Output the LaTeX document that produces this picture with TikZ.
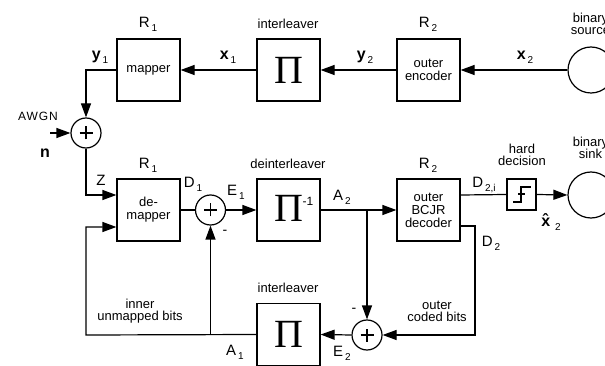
\documentclass[tikz,border=0pt]{standalone}
\usepackage{fontspec}
\setmainfont{Liberation Sans}
\newfontfamily\pifont{Liberation Serif}
\usetikzlibrary{arrows.meta}

% font size in picture units (1pt = one unit)
\newcommand{\fsz}[1]{\fontsize{#1}{#1}\selectfont}
% symbol with a lowered subscript
\newcommand{\sym}[2]{\fsz{15}#1\hspace{2pt}\raisebox{-4pt}{\fsz{10}#2}}
\newcommand{\bsym}[2]{\fsz{16}\textbf{#1}\hspace{2pt}\raisebox{-4pt}{\fsz{10}#2}}

\tikzset{
  blk/.style={draw, line width=1.2pt, rectangle, minimum width=63pt, minimum height=62pt,
              inner sep=0pt, align=center, font=\fsz{13}},
  adder/.style={draw, line width=1.2pt, circle, minimum size=30pt, inner sep=0pt,
              path picture={\draw[line width=1.2pt]
                ([xshift=-6.5pt]path picture bounding box.center) -- ([xshift=6.5pt]path picture bounding box.center)
                ([yshift=-6.5pt]path picture bounding box.center) -- ([yshift=6.5pt]path picture bounding box.center);}},
  term/.style={draw, line width=1.2pt, circle, minimum size=46pt, inner sep=0pt},
  wire/.style={line width=1.2pt},
  arr/.style={line width=1.2pt, -{Triangle[length=14pt,width=10pt]}},
  txt/.style={inner sep=0pt, align=center, font=\fsz{13}},
  lab/.style={inner sep=0pt},
}

\begin{document}
\begin{tikzpicture}[x=1pt, y=-1pt]
\useasboundingbox (0,0) rectangle (605,366);

% ---- transmitter chain ----
\node[blk] (map) at (148.5,70) {mapper};
\node[blk] (pi1) at (288.5,70) {\pifont\fsz{40}Π};
\node[blk] (enc) at (428.5,70) {outer\\encoder};
\node[term] (src) at (591,70) {};

% ---- channel ----
\node[adder] (ch) at (86,133) {};
\coordinate (noise) at (50,133);

% ---- receiver ----
\node[blk] (dem) at (148.5,210) {de-\\mapper};
\node[adder] (s1) at (210.5,210) {};
\node[blk] (pinv) at (288.5,210) {};
\node[inner sep=0pt] (pinvsym) at (288.5,208) {\pifont\fsz{40}Π};
\node[lab, font=\fsz{12}] (pinvexp) at (308,201) {-1};
\node[blk] (dec) at (428.5,210) {outer\\BCJR\\decoder};
\node[draw, line width=1.2pt, minimum width=29pt, minimum height=31pt, inner sep=0pt] (hd) at (521.5,194.5) {};
\draw[line width=1.2pt] (513,202) -- (521,202) -- (521,187) -- (531,187) (518,194) -- (525,194);
\node[term] (snk) at (591,195) {};
\node[adder] (s2) at (367,335) {};
\node[blk] (pi2) at (288.5,334.5) {\pifont\fsz{40}Π};

\coordinate (br2) at (367,210);
\coordinate (dcorner) at (475,335);
\coordinate (fb) at (86,335);
\coordinate (br1) at (210.5,335);

% ---- connectors ----
\draw[arr] (src.west) -- (enc.east);
\draw[arr] (enc.west) -- (pi1.east);
\draw[arr] (pi1.west) -- (map.east);
\draw[arr] (map.west) -| (ch.north);
\draw[arr] (noise) -- (ch.west);
\draw[arr] (ch.south) |- ([yshift=15pt]dem.west);
\draw[wire] (dem.east) -- (s1.west);
\draw[arr] (s1.east) -- (pinv.west);
\draw[arr] (pinv.east) -- (dec.west);
\draw[arr] (br2) -- (s2.north);
\draw[wire] ([yshift=15pt]dec.east) -- (hd.west);
\draw[arr] (hd.east) -- (snk.west);
\draw[arr] ([yshift=-16pt]dec.east) -| (dcorner) -- (s2.east);
\draw[arr] (s2.west) -- (pi2.east);
\draw[arr] (pi2.west) -- (fb) |- ([yshift=-17pt]dem.west);
\draw[arr] (br1) -- (s1.south);

% ---- labels ----
\node[lab] at (148,24) {\sym{R}{1}};
\node[txt] at (288,24) {interleaver};
\node[lab] at (428,24) {\sym{R}{2}};
\node[txt] at (590.5,24) {binary\\[-1pt]source};
\node[lab] at (100,57) {\bsym{y}{1}};
\node[lab] at (228,57) {\bsym{x}{1}};
\node[lab] at (365,57) {\bsym{y}{2}};
\node[lab] at (525,57) {\bsym{x}{2}};
\node[txt, font=\fsz{12}\addfontfeature{LetterSpace=8}] at (38,116) {AWGN};
\node[lab, font=\fsz{16}\bfseries] at (45,153) {n};
\node[lab, font=\fsz{15}] at (101,180) {Z};
\node[lab] at (148,165) {\sym{R}{1}};
\node[lab] at (193,184) {\sym{D}{1}};
\node[lab] at (236,192) {\sym{E}{1}};
\node[lab, font=\fsz{14}] at (225,232) {-};
\node[txt] at (288,164) {deinterleaver};
\node[lab] at (342,197) {\sym{A}{2}};
\node[lab] at (428,165) {\sym{R}{2}};
\node[lab] at (484,185) {\sym{D}{2,i}};
\node[txt] at (522,155) {hard\\[-1pt]decision};
\node[txt] at (590.5,148) {binary\\[-1pt]sink};
\node[lab] at (551,222) {\fsz{16}\textbf{\^x}\hspace{2pt}\raisebox{-4pt}{\fsz{10}2}};
\node[lab] at (491,243) {\sym{D}{2}};
\node[txt] at (437,311) {outer\\[-1pt]coded bits};
\node[lab, font=\fsz{14}] at (354,310) {-};
\node[lab] at (342,353) {\sym{E}{2}};
\node[lab] at (235,352) {\sym{A}{1}};
\node[txt] at (288,288) {interleaver};
\node[txt] at (140,311) {inner\\[-1pt]unmapped bits};
\end{tikzpicture}
\end{document}
